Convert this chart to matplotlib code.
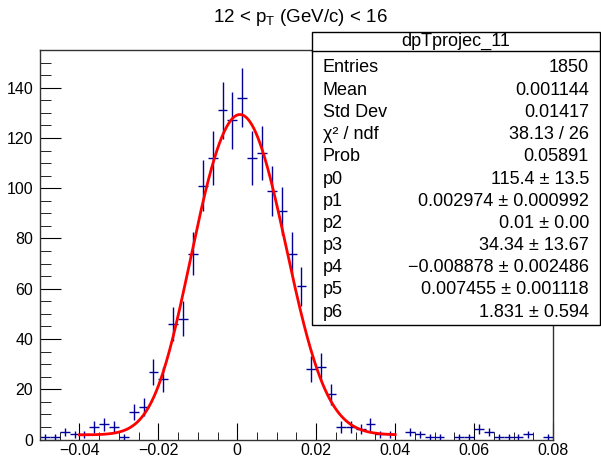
import numpy as np
import matplotlib.pyplot as plt
from matplotlib.patches import Rectangle
from matplotlib.lines import Line2D

plt.rcParams['font.family'] = ['Liberation Sans', 'DejaVu Sans']

# histogram: 52 bins of 0.0025 from -0.05
bin_lo = -0.05
bin_w = 0.0025
counts = [1, 1, 3, 2, 2, 5, 6, 5, 1, 11, 13,
          27, 24, 46, 48, 74, 101, 112, 131, 127, 136, 112, 114, 99, 91, 74, 61, 28, 29, 18,
          5, 5, 4, 6, 2, 2, 0, 3, 2, 1, 1, 0, 1, 1, 4, 3, 1, 1, 1, 2, 0, 1]

# fit parameters p0..p6 (two gaussians + constant), fit range
fit_p = [115.4, 0.002974, 0.01, 34.34, -0.008878, 0.007455, 1.831]
fit_range = (-0.04, 0.04)

stat_names = ["Entries", "Mean", "Std Dev", "χ² / ndf", "Prob",
              "p0", "p1", "p2", "p3", "p4", "p5", "p6"]
stat_values = ["1850", "0.001144", "0.01417", "38.13 / 26", "0.05891",
               "115.4 ± 13.5", "0.002974 ± 0.000992", "0.01 ± 0.00",
               "34.34 ± 13.67", "−0.008878 ± 0.002486", "0.007455 ± 0.001118",
               "1.831 ± 0.594"]
hist_name = "dpTprojec_11"

W, H = 601, 458
fig = plt.figure(figsize=(W / 100, H / 100), dpi=100)
ax = fig.add_axes([40 / W, 1 - 439.5 / H, (553 - 40) / W, (439.5 - 50) / H])

counts = np.array(counts, dtype=float)
centers = bin_lo + bin_w * (np.arange(len(counts)) + 0.5)
nz = counts > 0
ax.errorbar(centers[nz], counts[nz], xerr=bin_w / 2, yerr=np.sqrt(counts[nz]),
            fmt='none', ecolor='#000099', elinewidth=1.0, capsize=0)


def fitfunc(x, p):
    g1 = p[0] * np.exp(-0.5 * ((x - p[1]) / p[2]) ** 2)
    g2 = p[3] * np.exp(-0.5 * ((x - p[4]) / p[5]) ** 2)
    return g1 + g2 + p[6]


xf = np.linspace(fit_range[0], fit_range[1], 400)
ax.plot(xf, fitfunc(xf, fit_p), color='#ff0000', lw=2)

ax.set_xlim(-0.05, 0.08)
ax.set_ylim(0, 155)

xt = [-0.04, -0.02, 0, 0.02, 0.04, 0.06, 0.08]
ax.set_xticks(xt)
ax.set_xticklabels(["−0.04", "−0.02", "0", "0.02", "0.04", "0.06", "0.08"])
ax.set_xticks(np.arange(-0.05, 0.0801, 0.005), minor=True)
ax.set_yticks(np.arange(0, 141, 20))
ax.set_yticks(np.arange(0, 156, 5), minor=True)

ax.tick_params(which='both', direction='in', top=False, right=False, labelsize=11.5)
ax.tick_params(axis='x', which='major', length=12, pad=2.5)
ax.tick_params(axis='x', which='minor', length=6)
ax.tick_params(axis='y', which='major', length=15, pad=5)
ax.tick_params(axis='y', which='minor', length=8)
for s in ax.spines.values():
    s.set_linewidth(1.0)
    s.set_color('#333333')

fig.text(0.5, 1 - 18 / H, r"12 < p$_{\mathregular{T}}$ (GeV/c) < 16",
         ha='center', va='center', fontsize=13.5)

# stats box
bx0, bx1, by0, by1 = 312, 600, 32, 325
fig.add_artist(Rectangle((bx0 / W, 1 - by1 / H), (bx1 - bx0) / W, (by1 - by0) / H,
                         transform=fig.transFigure, facecolor='white',
                         edgecolor='black', lw=1.0, zorder=5))
fig.add_artist(Line2D([bx0 / W, bx1 / W], [1 - 51 / H, 1 - 51 / H],
                      transform=fig.transFigure, color='black', lw=1.0, zorder=6))
fig.text((bx0 + bx1) / 2 / W, 1 - 41 / H, hist_name, ha='center', va='center',
         fontsize=13, zorder=7)
for i, (n, v) in enumerate(zip(stat_names, stat_values)):
    y = 1 - (68 + i * 22.2) / H
    fig.text(323 / W, y, n, ha='left', va='center', fontsize=13, zorder=7)
    fig.text(589 / W, y, v, ha='right', va='center', fontsize=13, zorder=7)

fig.savefig("out.png", dpi=100)
